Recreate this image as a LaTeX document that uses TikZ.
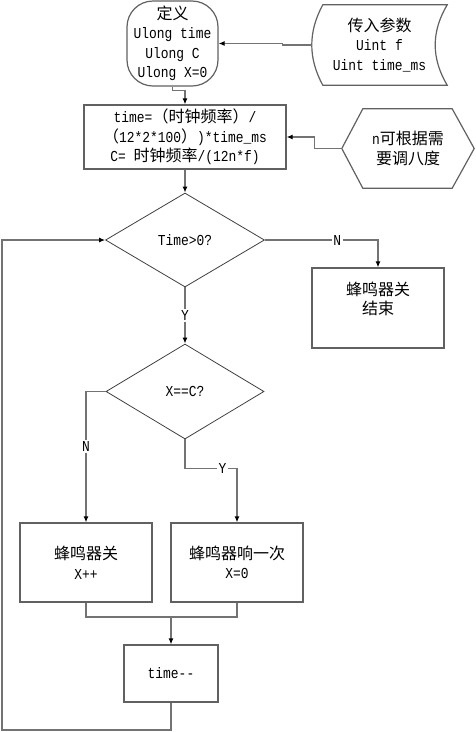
\documentclass[tikz,border=0pt]{standalone}
\usepackage{fontspec}
\setmainfont{Liberation Mono}[Scale=0.95, FakeStretch=0.85]
\newfontfamily\cjk{Noto Sans CJK SC}
\usetikzlibrary{shapes.geometric,arrows.meta}

\colorlet{box edge}{black!62}
\colorlet{flow line}{black!55}
\tikzset{
  txt/.style={font=\fontsize{16}{19.5}\selectfont, align=center, inner sep=0pt},
  outline/.style={draw=box edge, line width=1.2pt}
  }
\tikzstyle{box} = [txt, outline, rectangle]
\tikzstyle{decision} = [txt, diamond, draw=black!75, line width=0.8pt]
\tikzstyle{flow} = [draw=flow line, line width=1.2pt, -{Latex[length=6pt,width=5pt,color=black]}]
\tikzstyle{joinline} = [draw=flow line, line width=1.2pt]
\tikzstyle{yesno} = [fill=white, inner sep=1.5pt, font=\fontsize{16}{19.5}\selectfont]

\begin{document}
\begin{tikzpicture}[x=1pt, y=-1pt]

  % Page frame
  \fill[white] (0,0) rectangle (475,732);
  \useasboundingbox (0,0) rectangle (475,732);

  % The start and the inputs
  \node[box, rounded corners=26pt, minimum width=91pt, minimum height=85pt] (def) at (172.5,43.5)
    {{\cjk 定义}\\Ulong time\\Ulong C\\Ulong X=0};
  \node[txt, minimum width=135pt, minimum height=80pt] (params) at (379.5,45)
    {{\cjk 传入参数}\\Uint f\\Uint time\_ms};
  \draw[outline] ([xshift=11pt]params.north west) -- (params.north east)
    .. controls +(-16pt,-27pt) and +(-16pt,27pt) .. (params.south east)
    -- ([xshift=11pt]params.south west)
    .. controls +(-14.7pt,27pt) and +(-14.7pt,-27pt) .. ([xshift=11pt]params.north west) -- cycle;

  % The set up of time and C
  \node[box, minimum width=202pt, minimum height=64pt] (calc) at (185,137)
    {time={\cjk （时钟频率）}/\\{\cjk （}12*2*100{\cjk ）})*time\_ms\\C= {\cjk 时钟频率}/(12n*f)};
  \node[txt, minimum width=132pt, minimum height=79pt] (hexa) at (408,148.5)
    {n{\cjk 可根据需}\\{\cjk 要调八度}};
  \draw[outline] (hexa.west) -- ([xshift=21pt]hexa.north west) -- ([xshift=-22pt]hexa.north east)
    -- (hexa.east) -- ([xshift=-22pt]hexa.south east) -- ([xshift=21pt]hexa.south west) -- cycle;

  % The two tests
  \node[decision, minimum width=159pt, minimum height=94pt] (chk) at (185,240) {Time>0?};
  \node[decision, minimum width=158pt, minimum height=95pt] (eq) at (185,391.5) {X==C?};

  % The actions
  \node[box, minimum width=132pt, minimum height=80pt] (stop) at (378,308)
    {{\cjk 蜂鸣器关}\\{\cjk 结束}\\\mbox{}};
  \node[box, minimum width=132pt, minimum height=79pt] (off) at (86,562.5)
    {{\cjk 蜂鸣器关}\\X++};
  \node[box, minimum width=132pt, minimum height=79pt] (beep) at (237,562.5)
    {{\cjk 蜂鸣器响一次}\\X=0};
  \node[box, minimum width=94pt, minimum height=57pt] (dec) at (171,673.5) {time-{}-};

  \coordinate (join) at (171,617);
  \coordinate (back) at (2,730);

  % The connections between them
  \draw[flow] (def.south) -- ++(0,4) -| (calc.north);
  \draw[flow] (params.west) -- ++(-29,0) |- (def.east);
  \draw[flow] (hexa.west) -- ++(-27,0) |- (calc.east);
  \draw[flow] (calc.south) -- (chk.north);
  \draw[flow] (chk.east) -| node[pos=0.32, yesno] {N} (stop.north);
  \draw[flow] (chk.south) -- node[yesno] {Y} (eq.north);
  \draw[flow] (eq.west) -| node[pos=0.71, yesno] {N} (off.north);
  \draw[flow] (eq.south) -- ++(0,29) -| node[pos=0.36, yesno] {Y} (beep.north);
  \draw[joinline] (off.south) |- (join) -| (beep.south);
  \draw[flow] (join) -- (dec.north);
  \draw[flow] (dec.south) |- (back) |- (chk.west);
\end{tikzpicture}
\end{document}
